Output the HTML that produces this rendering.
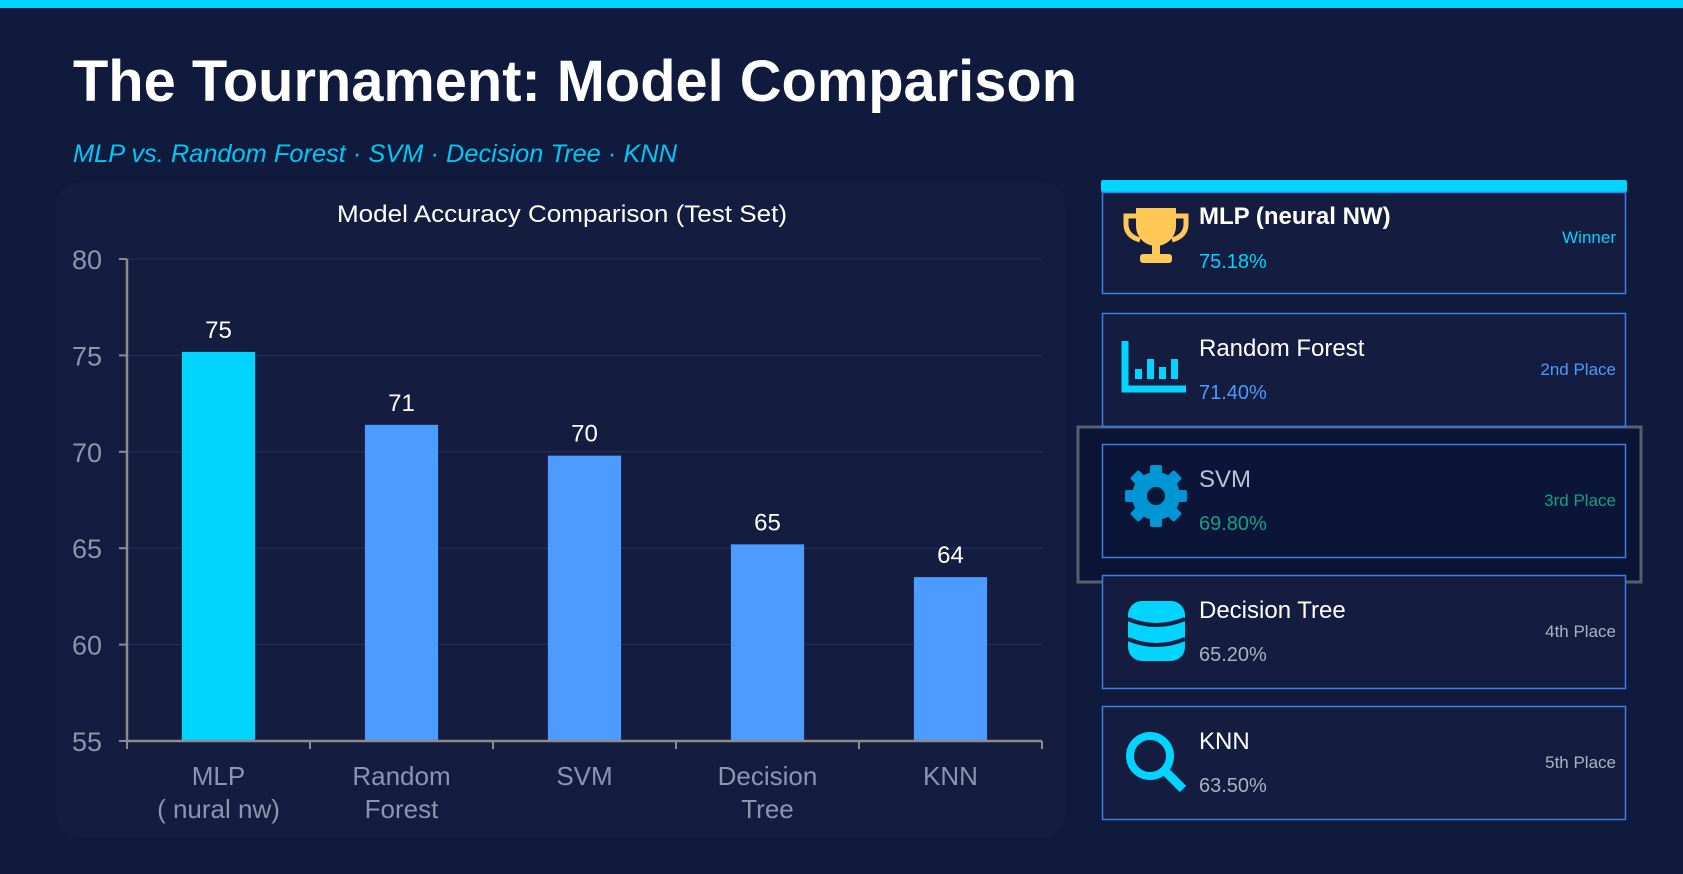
<!DOCTYPE html>
<html><head><meta charset="utf-8"><style>
html,body{margin:0;padding:0;background:#0f1a3d;width:1683px;height:874px;overflow:hidden}
svg{display:block}
text{font-family:"Liberation Sans",sans-serif}
</style></head><body>
<svg id="root" width="1683" height="874" viewBox="0 0 1683 874">
<rect x="0" y="0" width="1683" height="874" fill="#0f1a3d"/>
<rect x="0" y="0" width="1683" height="8" fill="#00d4ff"/>
<text x="73" y="101" font-size="58" font-weight="bold" fill="#ffffff" textLength="1004" lengthAdjust="spacingAndGlyphs">The Tournament: Model Comparison</text>
<text x="73" y="162" font-size="25" font-style="italic" fill="#00c8f5" textLength="604" lengthAdjust="spacingAndGlyphs">MLP vs. Random Forest · SVM · Decision Tree · KNN</text>
<rect x="56" y="182" width="1010" height="655" rx="22" fill="#141d40"/>
<text x="562" y="222" font-size="24" fill="#ffffff" text-anchor="middle" textLength="450" lengthAdjust="spacingAndGlyphs">Model Accuracy Comparison (Test Set)</text>
<g id="chart"></g>
<g id="cards"></g>
</svg>
<script>
const categories=[["MLP","( nural nw)"],["Random","Forest"],["SVM"],["Decision","Tree"],["KNN"]];
const values=[75.18,71.4,69.8,65.2,63.5];
const yTicks=[55,60,65,70,75,80];
const cardNames=["MLP (neural NW)","Random Forest","SVM","Decision Tree","KNN"];
const cardPercents=["75.18%","71.40%","69.80%","65.20%","63.50%"];
const cardPlaces=["Winner","2nd Place","3rd Place","4th Place","5th Place"];

const NS="http://www.w3.org/2000/svg";
function mk(tag,attrs,parent,txt){const e=document.createElementNS(NS,tag);for(const k in attrs)e.setAttribute(k,attrs[k]);if(txt!==undefined)e.textContent=txt;parent.appendChild(e);return e;}
const chart=document.getElementById('chart');
const X0=127,X1=1042,Y0=741,Y1=259,yMin=55,yMax=80;
const y=v=>Y0-(v-yMin)/(yMax-yMin)*(Y0-Y1);
const band=(X1-X0)/categories.length;
const xc=i=>X0+band*(i+0.5);
yTicks.forEach(t=>{
  if(t>yMin){const g=mk('line',{x1:X0,x2:X1,y1:y(t),y2:y(t),stroke:'#243158','stroke-width':1},chart);
  
  }
  const tk=mk('line',{x1:X0-8,x2:X0,y1:y(t),y2:y(t),stroke:'#8c8c8c','stroke-width':2},chart);
  
  
  const l=mk('text',{x:102,y:y(t)+10,'font-size':27,fill:'#8a96b0','text-anchor':'end'},chart,String(t));
  
  
});
const bw=band*0.4;
values.forEach((v,i)=>{
  const b=mk('rect',{x:xc(i)-bw/2,y:y(v),width:bw,height:Y0-y(v),fill:i===0?'#00d4ff':'#4d9bff'},chart);
  
  
  const t=mk('text',{x:xc(i),y:y(v)-14,'font-size':24,fill:'#ffffff','text-anchor':'middle'},chart,String(Math.round(v)));
  
  
  categories[i].forEach((ln,j)=>{
    const c=mk('text',{x:xc(i),y:785+j*33,'font-size':26,fill:'#8a96b0','text-anchor':'middle'},chart,ln);
    
    
  });
});
for(let i=0;i<=categories.length;i++){
  const tk=mk('line',{x1:X0+band*i,x2:X0+band*i,y1:Y0,y2:Y0+8,stroke:'#8c8c8c','stroke-width':2},chart);
  
  
}
const ya=mk('line',{x1:X0,x2:X0,y1:Y1,y2:Y0,stroke:'#8c8c8c','stroke-width':2.5},chart);


const xa=mk('line',{x1:X0,x2:X1,y1:Y0,y2:Y0,stroke:'#8c8c8c','stroke-width':2.5},chart);



// cards
const cards=document.getElementById('cards');
const hl=mk('rect',{x:1078,y:427,width:563,height:155,fill:'#0b1434',stroke:'#55606e','stroke-width':3},cards);


const tb=mk('rect',{x:1101,y:180,width:526,height:12,rx:2,fill:'#00d4ff'},cards);


const tops=[192,313,444,575,706];
const pctCol=['#00d4ff','#4d9bff','#14a08a','#a8b2c4','#a8b2c4'];
const placeCol=['#00d4ff','#4d9bff','#14a08a','#a8b2c4','#a8b2c4'];
const nameCol=['#ffffff','#ffffff','#b8c4dc','#ffffff','#ffffff'];
cardNames.forEach((n,i)=>{
  const top=tops[i];
  const g=mk('g',{},cards);
  
  
  mk('rect',{x:1102.5,y:top+0.5,width:523,height:i===0?101:113,fill:i===2?'#0b1538':'#141d40',stroke:'#3a7ee6','stroke-width':1.5},g);
  const nm=mk('text',{x:1199,y:top+(i===0?32:43),'font-size':24,'font-weight':i===0?'bold':'normal',fill:nameCol[i]},g,n);
  
  
  const p=mk('text',{x:1199,y:top+(i===0?76:86),'font-size':20,fill:pctCol[i]},g,cardPercents[i]);
  
  
  const pl=mk('text',{x:1616,y:top+(i===0?51:62),'font-size':17,fill:placeCol[i],'text-anchor':'end'},g,cardPlaces[i]);
  
  
  const cx=1156,cy=top+(i===0?44:56);
  const ic=mk('g',{},g);
  
  
  if(i===0){
    mk('path',{d:`M${cx-20} ${cy-28}h40v18a20 20 0 0 1-40 0z`,fill:'#ffc857'},ic);
    mk('path',{d:`M${cx-20} ${cy-20}h-10v8q0 12 14 16 M${cx+20} ${cy-20}h10v8q0 12-14 16`,fill:'none',stroke:'#ffc857','stroke-width':5},ic);
    mk('rect',{x:cx-4,y:cy+8,width:8,height:12,fill:'#ffc857'},ic);
    mk('rect',{x:cx-16,y:cy+18,width:32,height:9,rx:3,fill:'#ffc857'},ic);
  }else if(i===1){
    mk('path',{d:`M${cx-31} ${cy-28}v48h61`,fill:'none',stroke:'#00d4ff','stroke-width':7},ic);
    [[-18,10],[-6,20],[6,12],[18,20]].forEach(([dx,hh])=>mk('rect',{x:cx+dx-3,y:cy+10-hh,width:7,height:hh,fill:'#00d4ff'},ic));
  }else if(i===2){
    mk('circle',{cx:cx,cy:cy-4,r:24,fill:'#0096d6'},ic);
    for(let a=0;a<8;a++){mk('rect',{x:cx-6,y:cy-4-31,width:12,height:12,rx:2,fill:'#0096d6',transform:`rotate(${a*45} ${cx} ${cy-4})`},ic);}
    mk('circle',{cx:cx,cy:cy-4,r:9,fill:'#0b1538'},ic);
  }else if(i===3){
    mk('rect',{x:cx-28,y:cy-30,width:57,height:60,rx:14,fill:'#00d4ff'},ic);
    mk('path',{d:`M${cx-28} ${cy-12}q28 12 57 0 M${cx-28} ${cy+8}q28 12 57 0`,fill:'none',stroke:'#141d40','stroke-width':4},ic);
  }else{
    mk('circle',{cx:cx-6,cy:cy-6,r:20,fill:'none',stroke:'#00d4ff','stroke-width':8},ic);
    mk('line',{x1:cx+8,y1:cy+8,x2:cx+27,y2:cy+27,stroke:'#00d4ff','stroke-width':9},ic);
  }
});
</script>
</body></html>
